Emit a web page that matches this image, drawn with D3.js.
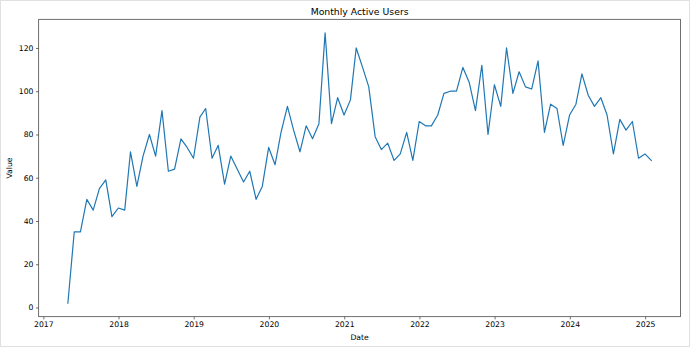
<!DOCTYPE html>
<html>
<head>
<meta charset="utf-8">
<script src="https://cdn.jsdelivr.net/npm/d3@7"></script>
<style>
  html, body { margin: 0; padding: 0; background: #fff; }
  svg { display: block; }
  text { font-family: "DejaVu Sans", sans-serif; fill: #000; }
</style>
</head>
<body>
<script>
// ---- data ----
const startMonth = "2017-05"; // first observation month
const values = [
  2, 35, 35, 50, 45, 55, 59, 42, 46, 45, 72, 56, 70, 80, 70, 91, 63,
  64, 78, 74, 69, 88, 92, 69, 75, 57, 70, 64, 58, 63, 50, 56, 74, 66,
  81, 93, 82, 72, 84, 78, 85, 127, 85, 97, 89, 96, 120, 111, 102, 79, 73,
  76, 68, 71, 81, 68, 86, 84, 84, 89, 99, 100, 100, 111, 104, 91, 112,
  80, 103, 93, 120, 99, 109, 102, 101, 114, 81, 94, 92, 75, 89, 94, 108,
  98, 93, 97, 89, 71, 87, 82, 86, 69, 71, 68
];
const yTicks = [0, 20, 40, 60, 80, 100, 120];
const xTickYears = [2017, 2018, 2019, 2020, 2021, 2022, 2023, 2024, 2025];
const titleText = "Monthly Active Users";
const xLabelText = "Date";
const yLabelText = "Value";

// month-end dates (observation dates)
const t0 = d3.timeParse("%Y-%m")(startMonth);
const dates = values.map((v, i) => d3.timeDay.offset(d3.timeMonth.offset(t0, i), -1));
const data = values.map((v, i) => ({ date: dates[i], value: v }));

// ---- layout ----
const W = 690, H = 347;
const m = { left: 38.7, right: 690 - 680.5, top: 19.3, bottom: 347 - 316.7 };

const svg = d3.select("body").append("svg").attr("width", W).attr("height", H);
svg.append("rect").attr("x", 0.5).attr("y", 0.5).attr("width", W - 1).attr("height", H - 1)
  .attr("fill", "#fff").attr("stroke", "#e0e0e0");

// 5% margins like matplotlib autoscale
const [dMin, dMax] = d3.extent(dates);
const dSpan = dMax - dMin;
const x = d3.scaleTime()
  .domain([new Date(+dMin - 0.05 * dSpan), new Date(+dMax + 0.05 * dSpan)])
  .range([m.left, W - m.right]);
const [vMin, vMax] = d3.extent(values);
const vSpan = vMax - vMin;
const y = d3.scaleLinear()
  .domain([vMin - 0.05 * vSpan, vMax + 0.05 * vSpan])
  .range([H - m.bottom, m.top]);

// line
const line = d3.line().x(d => x(d.date)).y(d => y(d.value));
svg.append("path").datum(data)
  .attr("d", line)
  .attr("fill", "none")
  .attr("stroke", "#1f77b4")
  .attr("stroke-width", 1.2)
  .attr("stroke-linejoin", "round")
  .attr("stroke-linecap", "square");

// axes
const fs = 7.7;
const xAxis = d3.axisBottom(x)
  .tickValues(xTickYears.map(yr => new Date(yr, 0, 1)))
  .tickFormat(d3.timeFormat("%Y"))
  .tickSize(2.7).tickPadding(2.5);
const gx = svg.append("g").attr("transform", `translate(0,${H - m.bottom})`).call(xAxis);
const yAxis = d3.axisLeft(y).tickValues(yTicks).tickSize(2.7).tickPadding(2.5);
const gy = svg.append("g").attr("transform", `translate(${m.left},0)`).call(yAxis);
[gx, gy].forEach(g => {
  g.select(".domain").remove();
  g.selectAll(".tick line").attr("stroke", "#333").attr("stroke-width", 0.7);
  g.selectAll(".tick text").attr("font-size", fs).attr("fill", "#000")
    .style("font-family", "DejaVu Sans, sans-serif");
});

// frame (spines)
svg.append("rect")
  .attr("x", m.left).attr("y", m.top)
  .attr("width", W - m.right - m.left).attr("height", H - m.bottom - m.top)
  .attr("fill", "none").attr("stroke", "#333").attr("stroke-width", 0.7);

// title & labels
const cx = (m.left + W - m.right) / 2;
svg.append("text").attr("x", cx).attr("y", 14.5).attr("text-anchor", "middle")
  .attr("font-size", 9.3).text(titleText);
svg.append("text").attr("x", cx).attr("y", 340).attr("text-anchor", "middle")
  .attr("font-size", fs).text(xLabelText);
svg.append("text").attr("transform", `translate(11.5,${(m.top + H - m.bottom) / 2}) rotate(-90)`)
  .attr("text-anchor", "middle").attr("font-size", fs).text(yLabelText);
</script>
</body>
</html>
